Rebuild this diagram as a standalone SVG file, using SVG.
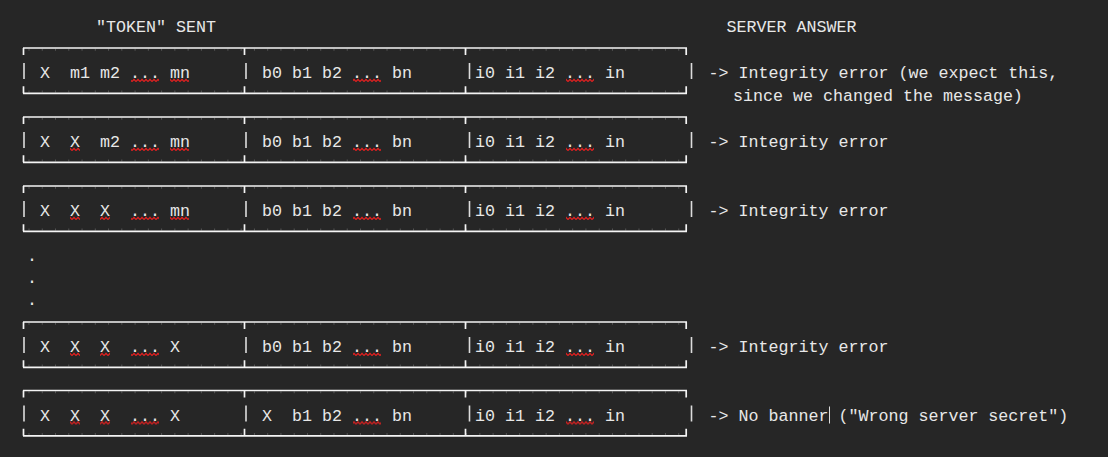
<svg xmlns="http://www.w3.org/2000/svg" width="1108" height="457" viewBox="0 0 1108 457" xml:space="preserve">
<style>
text{font-family:"Liberation Mono","DejaVu Sans Mono",monospace;font-size:16.667px;fill:#e8e8e8;white-space:pre}
.ln{stroke:#f4f4f4;stroke-width:1.7;fill:none}
.jt{stroke:#555555;stroke-width:2;stroke-dasharray:1 12.26;fill:none}
.bar{stroke:#dcdcdc;stroke-width:1.6}
.sq{fill:url(#sq)}
.cur{stroke:#dcdcdc;stroke-width:1}
</style>
<defs>
<pattern id="sq" patternUnits="userSpaceOnUse" width="4" height="5"><path d="M0 3.6 L2 1.4 L4 3.6" stroke="#f01e1e" stroke-width="1.2" fill="none"/></pattern>
<g id="frame">
<path class="jt" d="M28.5 -28.3 H687 M28.5 13.6 H687"/>
<path class="ln" d="M23 -30 H687 M23.5 -30 V-23 M244.5 -30 V-23 M465.5 -30 V-23 M686.2 -30 V-23 M23 15.3 H687 M23.5 15.3 V8.3 M244.5 15.3 V8.3 M465.5 15.3 V8.3 M686.2 15.3 V8.3"/>
<path class="bar" d="M24 -15 V1 M246 -15 V1 M469.5 -15 V1 M691.5 -15 V1"/>
</g>
</defs>
<rect x="0" y="0" width="1108" height="457" fill="#262626"/>

<g id="header">
<text x="96" y="32">"TOKEN" SENT</text>
<text x="726.5" y="32">SERVER ANSWER</text>
</g>

<g id="row1" transform="translate(0,78)">
<use href="#frame"/>
<text x="40" y="0">X  m1 m2 ... mn</text>
<text x="262" y="0">b0 b1 b2 ... bn</text>
<text x="475" y="0">i0 i1 i2 ... in</text>
<rect class="sq" x="131" y="0" width="28" height="5"/>
<rect class="sq" x="170" y="0" width="19" height="5"/>
<rect class="sq" x="353" y="0" width="28" height="5"/>
<rect class="sq" x="566" y="0" width="28" height="5"/>
<text x="708.5" y="0">-> Integrity error (we expect this,</text>
<text x="733" y="23">since we changed the message)</text>
</g>

<g id="row2" transform="translate(0,147)">
<use href="#frame"/>
<text x="40" y="0">X  X  m2 ... mn</text>
<text x="262" y="0">b0 b1 b2 ... bn</text>
<text x="475" y="0">i0 i1 i2 ... in</text>
<rect class="sq" x="70" y="0" width="10" height="5"/>
<rect class="sq" x="131" y="0" width="28" height="5"/>
<rect class="sq" x="170" y="0" width="19" height="5"/>
<rect class="sq" x="353" y="0" width="28" height="5"/>
<rect class="sq" x="566" y="0" width="28" height="5"/>
<text x="708.5" y="0">-> Integrity error</text>
</g>

<g id="row3" transform="translate(0,216)">
<use href="#frame"/>
<text x="40" y="0">X  X  X  ... mn</text>
<text x="262" y="0">b0 b1 b2 ... bn</text>
<text x="475" y="0">i0 i1 i2 ... in</text>
<rect class="sq" x="70" y="0" width="10" height="5"/>
<rect class="sq" x="100" y="0" width="10" height="5"/>
<rect class="sq" x="131" y="0" width="28" height="5"/>
<rect class="sq" x="170" y="0" width="19" height="5"/>
<rect class="sq" x="353" y="0" width="28" height="5"/>
<rect class="sq" x="566" y="0" width="28" height="5"/>
<text x="708.5" y="0">-> Integrity error</text>
</g>

<g id="dots">
<text x="32" y="261" text-anchor="middle">.</text>
<text x="32" y="283" text-anchor="middle">.</text>
<text x="32" y="305" text-anchor="middle">.</text>
</g>

<g id="row4" transform="translate(0,352)">
<use href="#frame"/>
<text x="40" y="0">X  X  X  ... X</text>
<text x="262" y="0">b0 b1 b2 ... bn</text>
<text x="475" y="0">i0 i1 i2 ... in</text>
<rect class="sq" x="70" y="0" width="10" height="5"/>
<rect class="sq" x="100" y="0" width="10" height="5"/>
<rect class="sq" x="131" y="0" width="28" height="5"/>
<rect class="sq" x="353" y="0" width="28" height="5"/>
<rect class="sq" x="566" y="0" width="28" height="5"/>
<text x="708.5" y="0">-> Integrity error</text>
</g>

<g id="row5" transform="translate(0,420.5)">
<use href="#frame"/>
<text x="40" y="0">X  X  X  ... X</text>
<text x="262" y="0">X  b1 b2 ... bn</text>
<text x="475" y="0">i0 i1 i2 ... in</text>
<rect class="sq" x="70" y="0" width="10" height="5"/>
<rect class="sq" x="100" y="0" width="10" height="5"/>
<rect class="sq" x="131" y="0" width="28" height="5"/>
<rect class="sq" x="353" y="0" width="28" height="5"/>
<rect class="sq" x="566" y="0" width="28" height="5"/>
<text x="708.5" y="0">-> No banner ("Wrong server secret")</text>
<line class="cur" x1="829.5" y1="-14" x2="829.5" y2="3"/>
</g>

<g id="connectors"/>
</svg>
